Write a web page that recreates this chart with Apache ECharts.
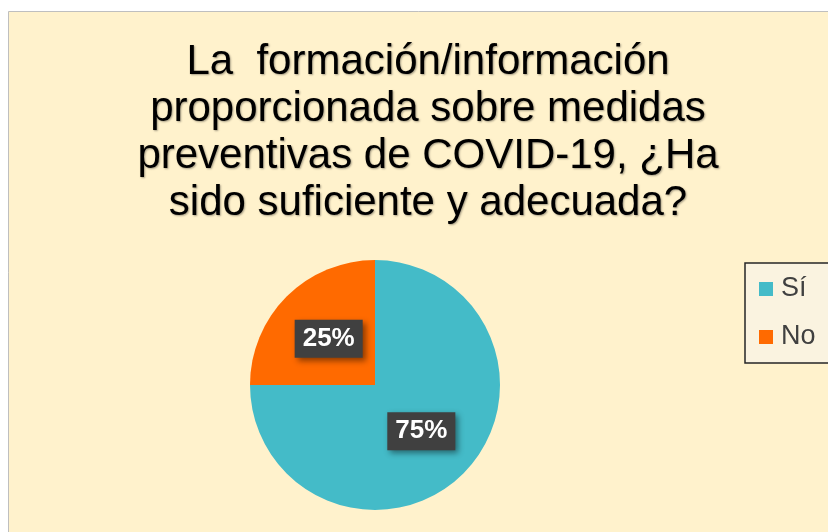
<!DOCTYPE html>
<html>
<head>
<meta charset="utf-8">
<script src="https://cdn.jsdelivr.net/npm/echarts@6/dist/echarts.min.js"></script>
<style>
  html, body { margin: 0; padding: 0; background: #fff; }
  #chart1 { width: 828px; height: 532px; }
</style>
</head>
<body>
<div id="chart1"></div>
<script>
var categories = ['Sí', 'No'];
var values = [75, 25];
var colors = ['#44BBC8', '#FF6A00'];
var titleText = 'La  formación/información\nproporcionada sobre medidas\npreventivas de COVID-19, ¿Ha\nsido suficiente y adecuada?';

var chart = echarts.init(document.getElementById('chart1'));

var option = {
    backgroundColor: '#ffffff',
    color: colors,
    graphic: [{
        type: 'rect',
        silent: true,
        z: -10,
        shape: { x: 8.5, y: 11.5, width: 830, height: 530 },
        style: { fill: '#FFF2CC', stroke: '#BFBFBF', lineWidth: 1 }
    }],
    title: {
        text: titleText,
        left: 423,
        top: 34,
        textAlign: 'center',
        textStyle: {
            fontFamily: 'Liberation Sans, Arial, sans-serif',
            fontSize: 42,
            fontWeight: 'normal',
            lineHeight: 47,
            color: '#000000',
            textShadowColor: 'rgba(0,0,0,0.35)',
            textShadowBlur: 2,
            textShadowOffsetX: 1,
            textShadowOffsetY: 1
        }
    },
    legend: {
        orient: 'vertical',
        left: 745,
        top: 263,
        data: categories,
        icon: 'rect',
        itemWidth: 14,
        itemHeight: 14,
        itemGap: 20,
        padding: [12, 40, 12, 14],
        backgroundColor: '#FAF3E0',
        borderColor: '#262626',
        borderWidth: 1.5,
        textStyle: {
            fontFamily: 'Liberation Sans, Arial, sans-serif',
            fontSize: 27,
            lineHeight: 28,
            color: '#404040',
            padding: [0, 0, 0, 3]
        }
    },
    series: [{
        type: 'pie',
        center: [375, 385],
        radius: 125,
        startAngle: 90,
        clockwise: true,
        silent: true,
        data: categories.map(function (c, i) {
            return { name: c, value: values[i] };
        }),
        label: {
            position: 'inside',
            formatter: '{d}%',
            fontFamily: 'Liberation Sans, Arial, sans-serif',
            fontSize: 26,
            fontWeight: 'bold',
            color: '#ffffff',
            backgroundColor: '#404040',
            padding: [7, 8, 5, 8],
            shadowColor: 'rgba(0,0,0,0.45)',
            shadowBlur: 6,
            shadowOffsetX: 3,
            shadowOffsetY: 3
        },
        labelLine: { show: false },
        itemStyle: { borderWidth: 0 }
    }]
};

chart.setOption(option);
</script>
</body>
</html>
